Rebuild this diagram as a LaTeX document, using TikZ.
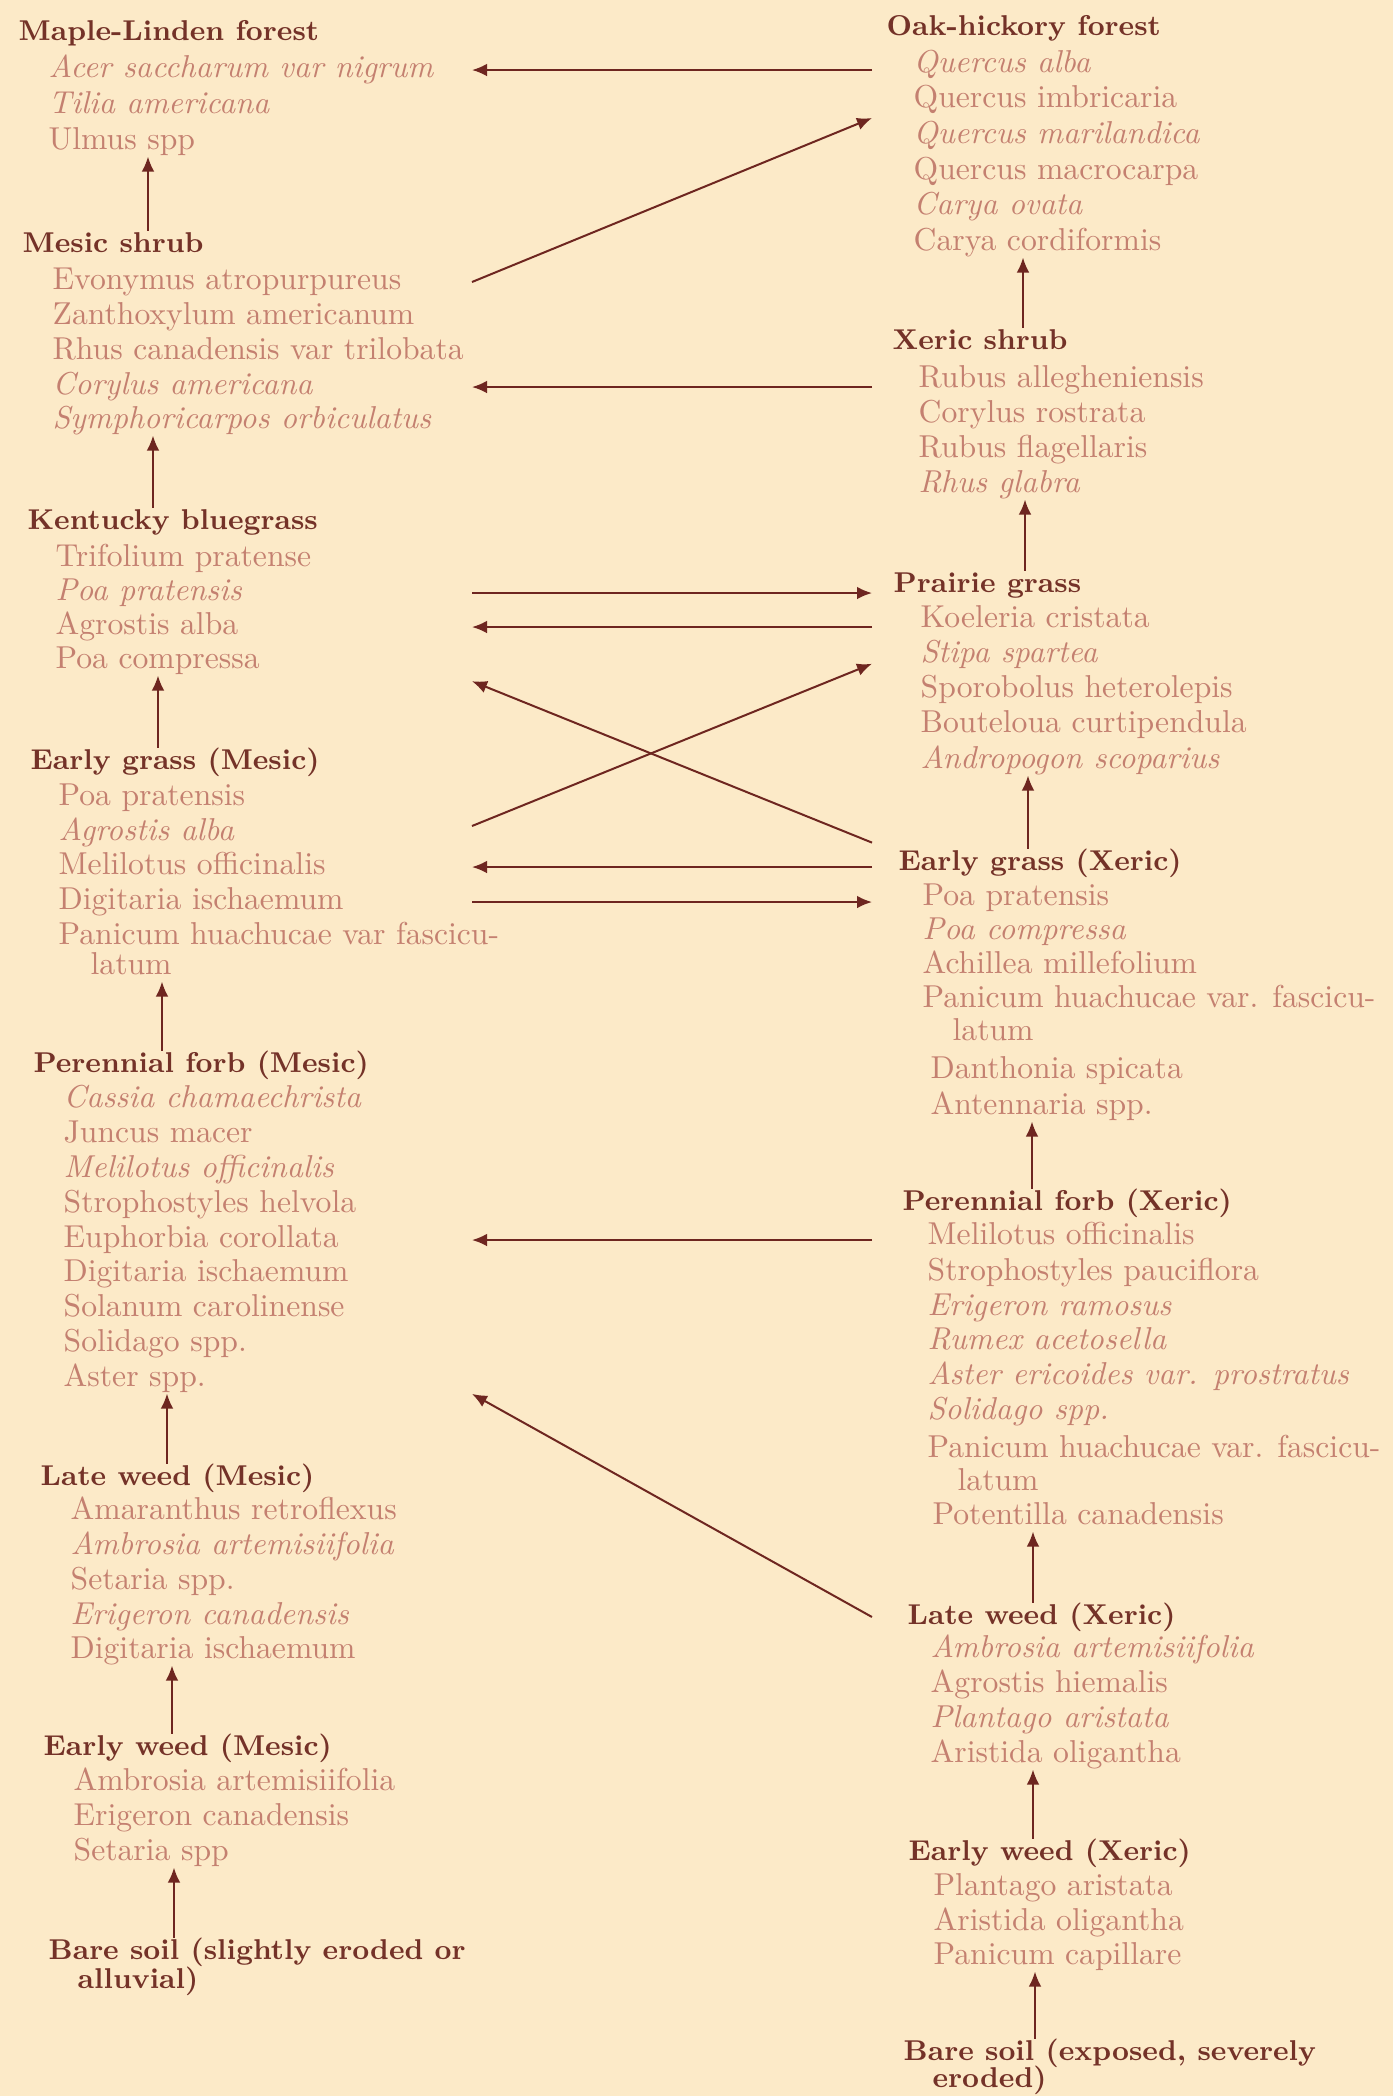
\documentclass[tikz,border=0pt]{standalone}
\usetikzlibrary{arrows.meta,calc}

\definecolor{paper}{RGB}{252,234,200}
\definecolor{stagecol}{RGB}{116,50,40}
\definecolor{taxcol}{RGB}{196,128,112}
\definecolor{arrowcol}{RGB}{110,38,32}

\begin{document}
\begin{tikzpicture}[x=0.3pt, y=-0.3pt,
    stage/.style={anchor=west, inner sep=0pt, text height=6.5pt, text depth=1.8pt,
        text=stagecol, font=\fontsize{8.6}{10}\selectfont\bfseries},
    taxon/.style={anchor=west, inner sep=0pt, text height=6.5pt, text depth=1.8pt,
        text=taxcol, font=\fontsize{9.5}{10}\selectfont},
    taxit/.style={taxon, font=\fontsize{9.5}{10}\selectfont\itshape}]

    \fill[paper] (0,0) rectangle (1393,2096);
    \useasboundingbox (0,0) rectangle (1393,2096);

    % mesic sere (left)
    \node[stage] (maple) at (18,33) {Maple-Linden forest};
    \node[taxit] (maple1) at (48,70) {Acer saccharum var nigrum};
    \node[taxit] (maple2) at (48,106) {Tilia americana};
    \node[taxon] (maple3) at (48,142) {Ulmus spp};

    \node[stage] (msh) at (22,245) {Mesic shrub};
    \node[taxon] (msh1) at (52,282) {Evonymus atropurpureus};
    \node[taxon] (msh2) at (52,317) {Zanthoxylum americanum};
    \node[taxon] (msh3) at (52,352) {Rhus canadensis var trilobata};
    \node[taxit] (msh4) at (52,387) {Corylus americana};
    \node[taxit] (msh5) at (52,421) {Symphoricarpos orbiculatus};

    \node[stage] (kbg) at (27,522) {Kentucky bluegrass};
    \node[taxon] (kbg1) at (55,559) {Trifolium pratense};
    \node[taxit] (kbg2) at (55,593) {Poa pratensis};
    \node[taxon] (kbg3) at (55,627) {Agrostis alba};
    \node[taxon] (kbg4) at (55,661) {Poa compressa};

    \node[stage] (egm) at (30,762) {Early grass (Mesic)};
    \node[taxon] (egm1) at (58,798) {Poa pratensis};
    \node[taxit] (egm2) at (58,833) {Agrostis alba};
    \node[taxon] (egm3) at (58,867) {Melilotus officinalis};
    \node[taxon] (egm4) at (58,902) {Digitaria ischaemum};
    \node[taxon] (egm5) at (58,937) {Panicum huachucae var fascicu-};
    \node[taxon] (egm6) at (90,967) {latum};

    \node[stage] (pfm) at (33,1065) {Perennial forb (Mesic)};
    \node[taxit] (pfm1) at (63,1100) {Cassia chamaechrista};
    \node[taxon] (pfm2) at (63,1135) {Juncus macer};
    \node[taxit] (pfm3) at (63,1170) {Melilotus officinalis};
    \node[taxon] (pfm4) at (63,1205) {Strophostyles helvola};
    \node[taxon] (pfm5) at (63,1240) {Euphorbia corollata};
    \node[taxon] (pfm6) at (63,1274) {Digitaria ischaemum};
    \node[taxon] (pfm7) at (63,1309) {Solanum carolinense};
    \node[taxon] (pfm8) at (63,1344) {Solidago spp.};
    \node[taxon] (pfm9) at (63,1379) {Aster spp.};

    \node[stage] (lwm) at (40,1478) {Late weed (Mesic)};
    \node[taxon] (lwm1) at (70,1512) {Amaranthus retroflexus};
    \node[taxit] (lwm2) at (70,1547) {Ambrosia artemisiifolia};
    \node[taxon] (lwm3) at (70,1582) {Setaria spp.};
    \node[taxit] (lwm4) at (70,1617) {Erigeron canadensis};
    \node[taxon] (lwm5) at (70,1651) {Digitaria ischaemum};

    \node[stage] (ewm) at (43,1748) {Early weed (Mesic)};
    \node[taxon] (ewm1) at (73,1783) {Ambrosia artemisiifolia};
    \node[taxon] (ewm2) at (73,1818) {Erigeron canadensis};
    \node[taxon] (ewm3) at (73,1853) {Setaria spp};

    \node[stage] (bsm) at (48,1952) {Bare soil (slightly eroded or};
    \node[stage] (bsm2) at (77,1981) {alluvial)};

    % xeric sere (right)
    \node[stage] (oak) at (886,28) {Oak-hickory forest};
    \node[taxit] (oak1) at (913,65) {Quercus alba};
    \node[taxon] (oak2) at (913,100) {Quercus imbricaria};
    \node[taxit] (oak3) at (913,136) {Quercus marilandica};
    \node[taxon] (oak4) at (913,172) {Quercus macrocarpa};
    \node[taxit] (oak5) at (913,207) {Carya ovata};
    \node[taxon] (oak6) at (913,243) {Carya cordiformis};

    \node[stage] (xsh) at (892,342) {Xeric shrub};
    \node[taxon] (xsh1) at (918,380) {Rubus allegheniensis};
    \node[taxon] (xsh2) at (918,415) {Corylus rostrata};
    \node[taxon] (xsh3) at (918,450) {Rubus flagellaris};
    \node[taxit] (xsh4) at (918,485) {Rhus glabra};

    \node[stage] (pgr) at (893,585) {Prairie grass};
    \node[taxon] (pgr1) at (920,620) {Koeleria cristata};
    \node[taxit] (pgr2) at (920,655) {Stipa spartea};
    \node[taxon] (pgr3) at (920,690) {Sporobolus heterolepis};
    \node[taxon] (pgr4) at (920,725) {Bouteloua curtipendula};
    \node[taxit] (pgr5) at (920,761) {Andropogon scoparius};

    \node[stage] (egx) at (898,863) {Early grass (Xeric)};
    \node[taxon] (egx1) at (922,898) {Poa pratensis};
    \node[taxit] (egx2) at (922,932) {Poa compressa};
    \node[taxon] (egx3) at (922,966) {Achillea millefolium};
    \node[taxon] (egx4) at (922,1000) {Panicum huachucae var. fascicu-};
    \node[taxon] (egx5) at (952,1033) {latum};
    \node[taxon] (egx6) at (930,1071) {Danthonia spicata};
    \node[taxon] (egx7) at (930,1107) {Antennaria spp.};

    \node[stage] (pfx) at (902,1203) {Perennial forb (Xeric)};
    \node[taxon] (pfx1) at (927,1237) {Melilotus officinalis};
    \node[taxon] (pfx2) at (927,1273) {Strophostyles pauciflora};
    \node[taxit] (pfx3) at (927,1308) {Erigeron ramosus};
    \node[taxit] (pfx4) at (927,1342) {Rumex acetosella};
    \node[taxit] (pfx5) at (927,1377) {Aster ericoides var. prostratus};
    \node[taxit] (pfx6) at (927,1412) {Solidago spp.};
    \node[taxon] (pfx7) at (927,1450) {Panicum huachucae var. fascicu-};
    \node[taxon] (pfx8) at (957,1483) {latum};
    \node[taxon] (pfx9) at (932,1517) {Potentilla canadensis};

    \node[stage] (lwx) at (907,1617) {Late weed (Xeric)};
    \node[taxit] (lwx1) at (930,1650) {Ambrosia artemisiifolia};
    \node[taxon] (lwx2) at (930,1685) {Agrostis hiemalis};
    \node[taxit] (lwx3) at (930,1720) {Plantago aristata};
    \node[taxon] (lwx4) at (930,1755) {Aristida oligantha};

    \node[stage] (ewx) at (908,1853) {Early weed (Xeric)};
    \node[taxon] (ewx1) at (933,1888) {Plantago aristata};
    \node[taxon] (ewx2) at (933,1923) {Aristida oligantha};
    \node[taxon] (ewx3) at (933,1957) {Panicum capillare};

    \node[stage] (bsx) at (903,2053) {Bare soil (exposed, severely};
    \node[stage] (bsx2) at (932,2080) {eroded)};

    % ends of the cross arrows
    \coordinate (gapL) at (472,0);
    \coordinate (gapR) at (872,0);
    \coordinate (oakmid) at ($(oak2)!.5!(oak3)$);
    \coordinate (pgrlow) at ($(egx)!.2!(pgr5)$);
    \coordinate (kbglow) at ($(kbg4)!.2!(egm)$);
    \coordinate (egmmid) at ($(egm1)!.8!(egm2)$);
    \coordinate (pgrmid) at ($(pgr2)!.25!(pgr3)$);
    \coordinate (pfmlow) at ($(pfm9)!.15!(lwm)$);

    \begin{scope}[>={Latex[length=4.5pt,width=3.8pt]}, every edge/.style={draw=arrowcol, line width=.6pt}]
        % up each sere
        \path [->] (msh.north -| 148,0) edge (maple3.south -| 148,0);
        \path [->] (kbg.north -| 153,0) edge (msh5.south -| 153,0);
        \path [->] (egm.north -| 158,0) edge (kbg4.south -| 158,0);
        \path [->] (pfm.north -| 162,0) edge (egm6.south -| 162,0);
        \path [->] (lwm.north -| 167,0) edge (pfm9.south -| 167,0);
        \path [->] (ewm.north -| 172,0) edge (lwm5.south -| 172,0);
        \path [->] (bsm.north -| 174,0) edge (ewm3.south -| 174,0);

        \path [->] (xsh.north -| 1023,0) edge (oak6.south -| 1023,0);
        \path [->] (pgr.north -| 1025,0) edge (xsh4.south -| 1025,0);
        \path [->] (egx.north -| 1028,0) edge (pgr5.south -| 1028,0);
        \path [->] (pfx.north -| 1032,0) edge (egx7.south -| 1032,0);
        \path [->] (lwx.north -| 1033,0) edge (pfx9.south -| 1033,0);
        \path [->] (ewx.north -| 1033,0) edge (lwx4.south -| 1033,0);
        \path [->] (bsx.north -| 1035,0) edge (ewx3.south -| 1035,0);

        % between the seres
        \path [->] (maple1 -| gapR) edge (maple1 -| gapL);
        \path [->] (msh1 -| gapL) edge (oakmid -| gapR);
        \path [->] (msh4 -| gapR) edge (msh4 -| gapL);
        \path [->] (kbg2 -| gapL) edge (kbg2 -| gapR);
        \path [->] (kbg3 -| gapR) edge (kbg3 -| gapL);
        \path [->] (pgrlow -| gapR) edge (kbglow -| gapL);
        \path [->] (egmmid -| gapL) edge (pgrmid -| gapR);
        \path [->] (egm3 -| gapR) edge (egm3 -| gapL);
        \path [->] (egm4 -| gapL) edge (egm4 -| gapR);
        \path [->] (pfm5 -| gapR) edge (pfm5 -| gapL);
        \path [->] (lwx -| gapR) edge (pfmlow -| gapL);
    \end{scope}
\end{tikzpicture}
\end{document}
